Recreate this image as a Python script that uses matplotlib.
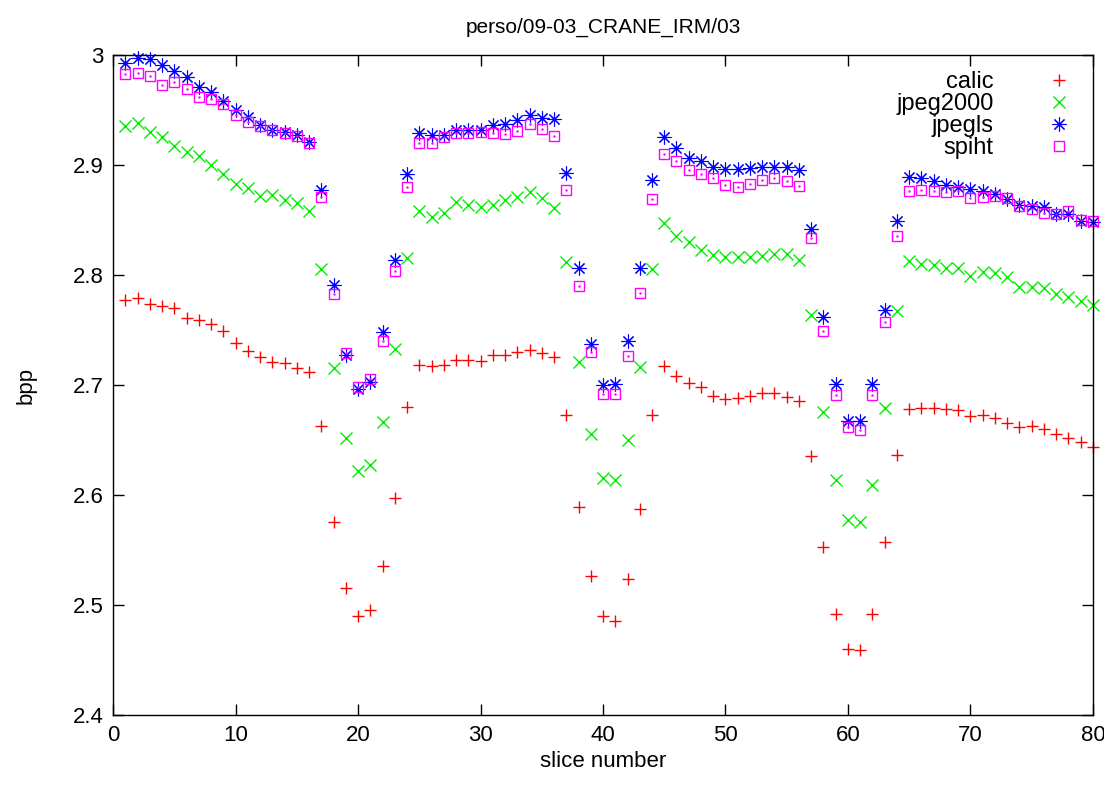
import matplotlib
matplotlib.use('Agg')
import matplotlib.pyplot as plt
import numpy as np
from matplotlib.ticker import FormatStrFormatter

plt.rcParams['font.family'] = ['Liberation Sans', 'DejaVu Sans']
plt.rcParams['font.size'] = 15

slices = np.arange(1, 81)

calic = [2.777, 2.779, 2.774, 2.772, 2.770, 2.761, 2.759, 2.755, 2.749, 2.738,
         2.731, 2.725, 2.721, 2.720, 2.715, 2.712, 2.663, 2.575, 2.515, 2.490,
         2.495, 2.535, 2.597, 2.680, 2.718, 2.717, 2.718, 2.723, 2.723, 2.722,
         2.727, 2.727, 2.730, 2.732, 2.729, 2.725, 2.673, 2.589, 2.526, 2.490,
         2.485, 2.524, 2.587, 2.673, 2.717, 2.708, 2.702, 2.698, 2.690, 2.687,
         2.688, 2.690, 2.693, 2.693, 2.689, 2.685, 2.635, 2.553, 2.492, 2.460,
         2.459, 2.492, 2.557, 2.636, 2.678, 2.679, 2.679, 2.678, 2.677, 2.672,
         2.673, 2.670, 2.665, 2.662, 2.663, 2.660, 2.655, 2.652, 2.648, 2.644]

jpeg2000 = [2.935, 2.938, 2.930, 2.925, 2.917, 2.912, 2.908, 2.900, 2.892, 2.883,
            2.879, 2.872, 2.873, 2.868, 2.865, 2.858, 2.805, 2.715, 2.652, 2.622,
            2.627, 2.666, 2.733, 2.815, 2.858, 2.853, 2.856, 2.866, 2.864, 2.862,
            2.864, 2.868, 2.871, 2.875, 2.870, 2.861, 2.812, 2.721, 2.655, 2.615,
            2.614, 2.650, 2.716, 2.805, 2.847, 2.835, 2.830, 2.823, 2.818, 2.816,
            2.816, 2.816, 2.817, 2.819, 2.819, 2.814, 2.764, 2.675, 2.614, 2.577,
            2.575, 2.609, 2.679, 2.767, 2.813, 2.810, 2.809, 2.806, 2.806, 2.799,
            2.803, 2.802, 2.798, 2.789, 2.789, 2.788, 2.783, 2.780, 2.776, 2.773]

jpegls = [2.993, 2.997, 2.996, 2.991, 2.985, 2.980, 2.971, 2.966, 2.958, 2.950,
          2.944, 2.936, 2.932, 2.930, 2.927, 2.921, 2.877, 2.791, 2.727, 2.696,
          2.703, 2.748, 2.814, 2.892, 2.929, 2.927, 2.927, 2.932, 2.932, 2.932,
          2.936, 2.937, 2.941, 2.945, 2.943, 2.942, 2.893, 2.806, 2.737, 2.700,
          2.701, 2.740, 2.806, 2.886, 2.925, 2.915, 2.906, 2.904, 2.898, 2.896,
          2.896, 2.897, 2.898, 2.898, 2.898, 2.895, 2.842, 2.762, 2.701, 2.667,
          2.667, 2.701, 2.768, 2.849, 2.889, 2.888, 2.885, 2.882, 2.880, 2.878,
          2.876, 2.874, 2.869, 2.864, 2.863, 2.862, 2.855, 2.855, 2.849, 2.848]

spiht = [2.983, 2.984, 2.981, 2.973, 2.975, 2.969, 2.962, 2.960, 2.955, 2.945,
         2.939, 2.935, 2.932, 2.929, 2.926, 2.920, 2.871, 2.783, 2.729, 2.698,
         2.705, 2.740, 2.804, 2.880, 2.920, 2.920, 2.925, 2.929, 2.929, 2.930,
         2.929, 2.928, 2.931, 2.937, 2.933, 2.926, 2.877, 2.790, 2.730, 2.692,
         2.692, 2.726, 2.784, 2.869, 2.910, 2.904, 2.895, 2.892, 2.888, 2.882,
         2.880, 2.883, 2.886, 2.888, 2.885, 2.881, 2.834, 2.749, 2.691, 2.662,
         2.659, 2.691, 2.757, 2.835, 2.876, 2.877, 2.876, 2.875, 2.876, 2.870,
         2.871, 2.872, 2.870, 2.863, 2.860, 2.856, 2.855, 2.858, 2.850, 2.849]

fig = plt.figure(figsize=(11.04, 7.85), dpi=100)
ax = fig.add_axes([0.1024, 0.0892, 0.8876, 0.8408])

ax.plot(slices, calic, ls='none', marker='+', ms=9, mew=1, color='#ff0000',
        label='calic', clip_on=False)
ax.plot(slices, jpeg2000, ls='none', marker='x', ms=8, mew=1, color='#00ee00',
        label='jpeg2000', clip_on=False)
ax.plot(slices, jpegls, ls='none', marker=(8, 2, 0), ms=10, mew=0.8, color='#0000ff',
        label='jpegls', clip_on=False)
ax.plot(slices, spiht, ls='none', marker='s', ms=7.5, mew=1, mfc='none', color='#ff00ff',
        label='spiht', clip_on=False)
ax.plot(slices, spiht, ls='none', marker='.', ms=1.5, color='#ff00ff', clip_on=False)

ax.set_xlim(0, 80)
ax.set_ylim(2.4, 3.0)
ax.set_xticks(np.arange(0, 81, 10))
ax.set_yticks(np.arange(2.4, 3.01, 0.1))
ax.yaxis.set_major_formatter(FormatStrFormatter('%g'))
ax.tick_params(direction='in', top=True, right=True, length=8, width=1, pad=7,
               labelsize=16)
for s in ax.spines.values():
    s.set_linewidth(1)

ax.set_xlabel('slice number', fontsize=16, labelpad=4)
ax.set_ylabel('bpp', fontsize=16, labelpad=26)
ax.set_title('perso/09-03_CRANE_IRM/03', fontsize=15, pad=16)

ax.legend(loc='upper right', frameon=False, markerfirst=False, handletextpad=2.0,
          labelspacing=0.0, borderaxespad=0.3, fontsize=17, handlelength=1.5)

fig.savefig('out.png', dpi=100)
